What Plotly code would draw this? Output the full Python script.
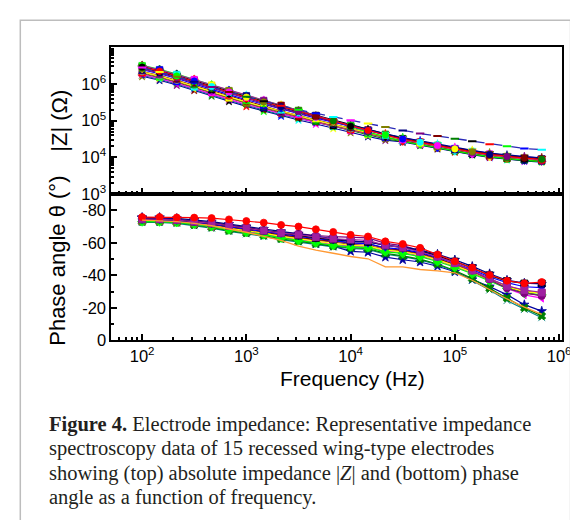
import plotly.graph_objects as go

# frequencies (Hz), 6 points per decade
freq = [100, 147, 215, 316, 464, 681, 1000, 1468, 2154, 3162, 4642, 6813,
        10000, 14678, 21544, 31623, 46416, 68129, 100000, 146780, 215443, 316228, 464159, 681292]

# log10 |Z| (ohm) for the 15 electrodes
logz_1 = [6.46, 6.35, 6.22, 6.08, 5.93, 5.78, 5.64, 5.51, 5.38, 5.25, 5.12, 4.99, 4.85, 4.73, 4.61, 4.50, 4.41, 4.32, 4.23, 4.15, 4.08, 4.02, 3.98, 3.95]
logz_2 = [6.41, 6.30, 6.17, 6.03, 5.88, 5.73, 5.59, 5.46, 5.33, 5.21, 5.09, 4.97, 4.85, 4.74, 4.62, 4.52, 4.43, 4.34, 4.25, 4.17, 4.10, 4.04, 4.00, 3.97]
logz_3 = [6.50, 6.39, 6.26, 6.12, 5.97, 5.82, 5.68, 5.55, 5.42, 5.28, 5.14, 5.00, 4.86, 4.73, 4.60, 4.48, 4.39, 4.30, 4.21, 4.13, 4.06, 4.00, 3.96, 3.93]
logz_4 = [6.48, 6.37, 6.24, 6.10, 5.95, 5.80, 5.66, 5.53, 5.40, 5.27, 5.14, 5.01, 4.88, 4.75, 4.63, 4.51, 4.42, 4.33, 4.24, 4.16, 4.09, 4.03, 3.99, 3.96]
logz_5 = [6.34, 6.23, 6.10, 5.96, 5.81, 5.66, 5.52, 5.39, 5.26, 5.14, 5.02, 4.90, 4.78, 4.67, 4.56, 4.46, 4.37, 4.28, 4.19, 4.11, 4.04, 3.98, 3.94, 3.91]
logz_6 = [6.44, 6.33, 6.20, 6.06, 5.91, 5.76, 5.62, 5.49, 5.36, 5.24, 5.12, 4.99, 4.87, 4.76, 4.64, 4.54, 4.45, 4.36, 4.27, 4.19, 4.12, 4.06, 4.02, 3.99]
logz_7 = [6.39, 6.28, 6.15, 6.01, 5.86, 5.71, 5.57, 5.44, 5.31, 5.19, 5.07, 4.96, 4.84, 4.73, 4.63, 4.53, 4.44, 4.35, 4.26, 4.18, 4.11, 4.05, 4.01, 3.98]
logz_8 = [6.30, 6.19, 6.06, 5.92, 5.77, 5.62, 5.48, 5.35, 5.22, 5.10, 4.98, 4.86, 4.75, 4.64, 4.54, 4.45, 4.36, 4.27, 4.18, 4.10, 4.03, 3.97, 3.93, 3.90]
logz_9 = [6.33, 6.22, 6.09, 5.95, 5.80, 5.65, 5.51, 5.38, 5.25, 5.13, 5.01, 4.90, 4.78, 4.67, 4.57, 4.48, 4.39, 4.30, 4.21, 4.13, 4.06, 4.00, 3.96, 3.93]
logz_10 = [6.26, 6.15, 6.02, 5.88, 5.73, 5.58, 5.44, 5.31, 5.18, 5.07, 4.96, 4.85, 4.74, 4.64, 4.54, 4.47, 4.38, 4.29, 4.20, 4.12, 4.05, 3.99, 3.95, 3.92]
logz_11 = [6.51, 6.40, 6.27, 6.13, 5.98, 5.83, 5.69, 5.56, 5.43, 5.28, 5.13, 4.98, 4.83, 4.69, 4.56, 4.44, 4.35, 4.26, 4.17, 4.09, 4.02, 3.96, 3.92, 3.89]
logz_12 = [6.28, 6.17, 6.04, 5.90, 5.75, 5.60, 5.46, 5.33, 5.20, 5.08, 4.96, 4.84, 4.72, 4.61, 4.50, 4.43, 4.34, 4.25, 4.16, 4.08, 4.01, 3.95, 3.91, 3.88]
logz_13 = [6.24, 6.13, 6.00, 5.86, 5.71, 5.56, 5.42, 5.29, 5.16, 5.06, 4.95, 4.84, 4.74, 4.64, 4.55, 4.49, 4.40, 4.31, 4.22, 4.14, 4.07, 4.01, 3.97, 3.94]
logz_14 = [6.21, 6.10, 5.97, 5.83, 5.68, 5.53, 5.39, 5.26, 5.13, 5.02, 4.91, 4.79, 4.68, 4.57, 4.47, 4.42, 4.33, 4.24, 4.15, 4.07, 4.00, 3.94, 3.90, 3.87]
logz_15 = [6.45, 6.33, 6.20, 6.06, 5.92, 5.78, 5.65, 5.53, 5.41, 5.30, 5.20, 5.10, 5.01, 4.92, 4.83, 4.73, 4.65, 4.58, 4.51, 4.44, 4.36, 4.30, 4.24, 4.21]

# phase angle (degrees)
ph_1 = [-75.8, -75.8, -75.6, -75.5, -75.2, -74.4, -73.4, -72.4, -71.0, -70.0, -68.3, -66.7, -64.9, -63.9, -60.9, -59.3, -56.9, -52.8, -48.6, -44.8, -40.2, -36.7, -35.1, -35.9]
ph_2 = [-75.0, -75.0, -74.5, -73.5, -72.5, -71.0, -69.3, -67.7, -66.3, -65.7, -64.5, -63.8, -63.3, -63.0, -59.7, -58.3, -55.2, -52.2, -47.6, -42.8, -37.5, -32.0, -29.0, -27.5]
ph_3 = [-74.5, -74.5, -74.0, -73.0, -72.0, -70.5, -69.0, -67.5, -66.0, -65.0, -63.5, -62.5, -62.0, -61.5, -58.5, -57.0, -54.5, -51.5, -47.5, -43.0, -38.0, -33.5, -31.0, -29.5]
ph_4 = [-74.5, -74.5, -74.0, -73.0, -72.0, -70.5, -69.0, -67.5, -66.0, -64.5, -63.0, -62.0, -61.0, -60.5, -58.5, -57.0, -55.0, -52.0, -48.5, -44.5, -40.0, -36.5, -35.0, -35.0]
ph_5 = [-74.0, -74.0, -73.5, -72.5, -71.0, -69.5, -68.0, -66.5, -65.0, -63.5, -62.0, -61.0, -60.0, -59.5, -56.5, -55.5, -53.5, -50.5, -46.5, -42.0, -37.5, -33.0, -29.5, -27.5]
ph_6 = [-75.5, -75.5, -75.0, -74.0, -73.0, -71.5, -70.0, -68.5, -67.0, -65.5, -64.0, -62.5, -61.0, -60.5, -58.5, -57.5, -55.5, -53.0, -49.5, -45.5, -41.0, -37.0, -35.2, -34.7]
ph_7 = [-74.0, -74.0, -73.5, -72.5, -71.5, -70.0, -68.5, -67.0, -65.5, -64.0, -62.5, -61.5, -60.0, -59.5, -57.0, -56.0, -54.0, -51.0, -47.5, -43.5, -39.0, -35.5, -33.0, -32.5]
ph_8 = [-73.5, -73.5, -73.0, -72.0, -70.5, -69.0, -67.5, -66.0, -64.5, -63.0, -61.5, -60.5, -59.0, -58.5, -56.0, -55.0, -53.0, -50.0, -46.5, -42.5, -38.0, -33.5, -30.5, -29.0]
ph_9 = [-74.0, -74.0, -73.5, -72.0, -70.5, -69.0, -67.5, -66.0, -64.0, -62.5, -61.0, -59.5, -58.5, -58.0, -55.5, -54.5, -52.5, -49.5, -46.0, -42.0, -37.5, -33.0, -30.0, -29.0]
ph_10 = [-73.5, -73.5, -73.0, -71.5, -70.0, -68.5, -67.0, -65.5, -63.5, -62.0, -60.5, -59.0, -58.0, -57.5, -55.0, -54.0, -52.0, -49.0, -45.5, -41.5, -37.0, -32.0, -28.0, -26.0]
ph_11 = [-73.0, -73.0, -72.5, -71.5, -70.0, -68.0, -66.5, -65.0, -63.0, -61.5, -60.0, -58.5, -57.5, -57.0, -54.5, -53.5, -51.5, -48.5, -45.0, -41.0, -36.5, -32.0, -29.0, -28.0]
ph_12 = [-73.0, -73.0, -72.5, -71.0, -69.5, -67.5, -66.0, -64.5, -62.5, -61.0, -59.5, -58.0, -57.0, -56.5, -53.5, -52.0, -50.0, -47.0, -43.0, -38.0, -32.0, -26.0, -20.0, -15.0]
ph_13 = [-72.5, -72.5, -72.0, -70.5, -69.0, -67.0, -65.5, -64.0, -62.0, -60.5, -59.0, -57.5, -56.5, -56.0, -53.0, -51.5, -49.5, -46.5, -42.5, -37.0, -31.0, -24.5, -19.0, -14.0]
ph_14 = [-75.5, -75.5, -74.5, -73.0, -71.5, -69.5, -67.5, -65.5, -63.5, -61.5, -59.5, -58.0, -54.8, -54.2, -51.2, -49.6, -48.2, -45.6, -42.2, -37.5, -33.1, -28.1, -22.0, -18.0]
ph_15 = [-74.0, -73.5, -73.0, -72.0, -70.5, -68.5, -66.5, -64.0, -61.5, -58.0, -55.5, -53.6, -51.6, -50.2, -45.2, -45.2, -43.6, -42.8, -41.6, -37.0, -31.0, -25.5, -20.5, -16.0]

logz_all = [logz_1, logz_2, logz_3, logz_4, logz_5, logz_6, logz_7, logz_8,
            logz_9, logz_10, logz_11, logz_12, logz_13, logz_14, logz_15]
ph_all = [ph_1, ph_2, ph_3, ph_4, ph_5, ph_6, ph_7, ph_8,
          ph_9, ph_10, ph_11, ph_12, ph_13, ph_14, ph_15]

# series styles
COLORES = ["#FF0000", "#800080", "#A020A0", "#000000", "#800000", "#000080", "#0000FF",
           "#A0522D", "#FFFF00", "#FF00FF", "#00FF00", "#008000", "#008080", "#0000A0", "#FF8000"]
SIMBOLOS = ["circle", "circle", "square", "square", "circle-open", "star", "triangle-down",
            "square", "triangle-up", "triangle-left", "diamond", "x", "x-thin-open", "star", None]
# Origin-like colour increment used by the |Z| markers
PALETA = ["#000000", "#FF0000", "#00FF00", "#0000FF", "#00FFFF", "#FF00FF",
          "#FFFF00", "#808000", "#000080", "#800080", "#800000", "#008000"]

fig = go.Figure()

orden = [13, 12, 11, 9, 7, 4, 8, 10, 6, 1, 3, 5, 2, 0, 14]

# top panel: |Z|
for s in orden:
    z = [10 ** v for v in logz_all[s]]
    if SIMBOLOS[s] is None:
        fig.add_trace(go.Scatter(
            x=freq, y=z, mode="lines+markers", xaxis="x", yaxis="y",
            line=dict(color="#2A2AB8", width=1.3, dash="dash"),
            marker=dict(symbol="line-ew", size=6,
                        line=dict(width=2, color=[PALETA[(k + 5) % 12] for k in range(len(freq))])),
            showlegend=False))
        continue
    col_pts = [PALETA[(k + 2 + 5 * (14 - s)) % 12] for k in range(len(freq))]
    fig.add_trace(go.Scatter(
        x=freq, y=z, mode="lines+markers", xaxis="x", yaxis="y",
        line=dict(color=COLORES[s], width=1.1),
        marker=dict(symbol=SIMBOLOS[s], size=6.5, color=col_pts, line=dict(width=0.6, color=col_pts)),
        showlegend=False))

# bottom panel: phase
for s in orden:
    if SIMBOLOS[s] is None:
        fig.add_trace(go.Scatter(
            x=freq, y=ph_all[s], mode="lines", xaxis="x2", yaxis="y2",
            line=dict(color="#FF9933", width=1.3), showlegend=False))
        continue
    fig.add_trace(go.Scatter(
        x=freq, y=ph_all[s], mode="lines+markers", xaxis="x2", yaxis="y2",
        line=dict(color=COLORES[s], width=1.2),
        marker=dict(symbol=SIMBOLOS[s], size=7, color=COLORES[s], line=dict(width=0.8, color=COLORES[s])),
        showlegend=False))

minor_x = [m * 10 ** d for d in range(1, 6) for m in range(2, 10)]
minor_y = [m * 10 ** d for d in range(3, 7) for m in range(2, 10)]
eje = dict(showline=True, mirror=True, linecolor="black", linewidth=2, showgrid=False,
           zeroline=False, ticks="inside", ticklen=6, tickwidth=1.5, tickcolor="black",
           tickfont=dict(family="Liberation Sans, Arial", size=16.5, color="black"))
dom_x = [105 / 578, 563 / 578]
xtick = [100, 1000, 10000, 100000, 1000000]
xtext = ["10<sup>2</sup>", "10<sup>3</sup>", "10<sup>4</sup>", "10<sup>5</sup>", "10<sup>6</sup>"]

fig.update_layout(
    width=578, height=520, autosize=False,
    margin=dict(l=0, r=0, t=0, b=0),
    paper_bgcolor="white", plot_bgcolor="white",
    xaxis=dict(eje, type="log", range=[1.705, 6.03], domain=dom_x, anchor="y",
               tickvals=xtick, showticklabels=False,
               minor=dict(tickvals=minor_x, ticks="inside", ticklen=3, tickcolor="black")),
    yaxis=dict(eje, type="log", range=[3, 7], domain=[(520 - 189.3) / 520, (520 - 40) / 520], anchor="x",
               tickvals=[1e3, 1e4, 1e5, 1e6],
               ticktext=["10<sup>3</sup>", "10<sup>4</sup>", "10<sup>5</sup>", "10<sup>6</sup>"],
               minor=dict(tickvals=minor_y, ticks="inside", ticklen=3, tickcolor="black")),
    xaxis2=dict(eje, type="log", range=[1.705, 6.03], domain=dom_x, anchor="y2",
                tickvals=xtick, ticktext=xtext,
                minor=dict(tickvals=minor_x, ticks="inside", ticklen=3, tickcolor="black")),
    yaxis2=dict(eje, range=[0, -90], domain=[(520 - 338.3) / 520, (520 - 189.3) / 520], anchor="x2",
                tickvals=[0, -20, -40, -60, -80], ticktext=["0", "-20", "-40", "-60", "-80"],
                minor=dict(tickvals=[-10, -30, -50, -70, -90], ticks="inside", ticklen=3, tickcolor="black")),
)

titulo = dict(family="Liberation Sans, Arial", size=22, color="black")
fig.add_annotation(text="|Z| (Ω)", x=52 / 578, y=(520 - 114.5) / 520, xref="paper", yref="paper",
                   textangle=-90, showarrow=False, font=titulo, xanchor="center", yanchor="middle")
fig.add_annotation(text="Phase angle θ (°)", x=50 / 578, y=(520 - 257) / 520, xref="paper", yref="paper",
                   textangle=-90, showarrow=False, font=titulo, xanchor="center", yanchor="middle")
fig.add_annotation(text="Frequency (Hz)", x=350 / 578, y=(520 - 377) / 520, xref="paper", yref="paper",
                   showarrow=False, font=dict(family="Liberation Sans, Arial", size=21, color="black"),
                   xanchor="center", yanchor="middle")

# caption
leyenda = [
    "<b>Figure 4.</b> Electrode impedance: Representative impedance",
    "spectroscopy data of 15 recessed wing-type electrodes",
    "showing (top) absolute impedance |<i>Z</i>| and (bottom) phase",
    "angle as a function of frequency.",
]
for i, linea in enumerate(leyenda):
    fig.add_annotation(text=linea, x=40 / 578, y=(520 - (424 + 24.7 * i)) / 520,
                       xref="paper", yref="paper", showarrow=False, xanchor="left", yanchor="middle",
                       font=dict(family="Liberation Serif, Times New Roman", size=20.5, color="#231F20"))

# figure border
fig.add_shape(type="rect", xref="paper", yref="paper", x0=12.5 / 578, x1=571.5 / 578,
              y0=-0.05, y1=(520 - 12.5) / 520, line=dict(color="#BDBDBD", width=1.5))

fig.write_html("out.html")
